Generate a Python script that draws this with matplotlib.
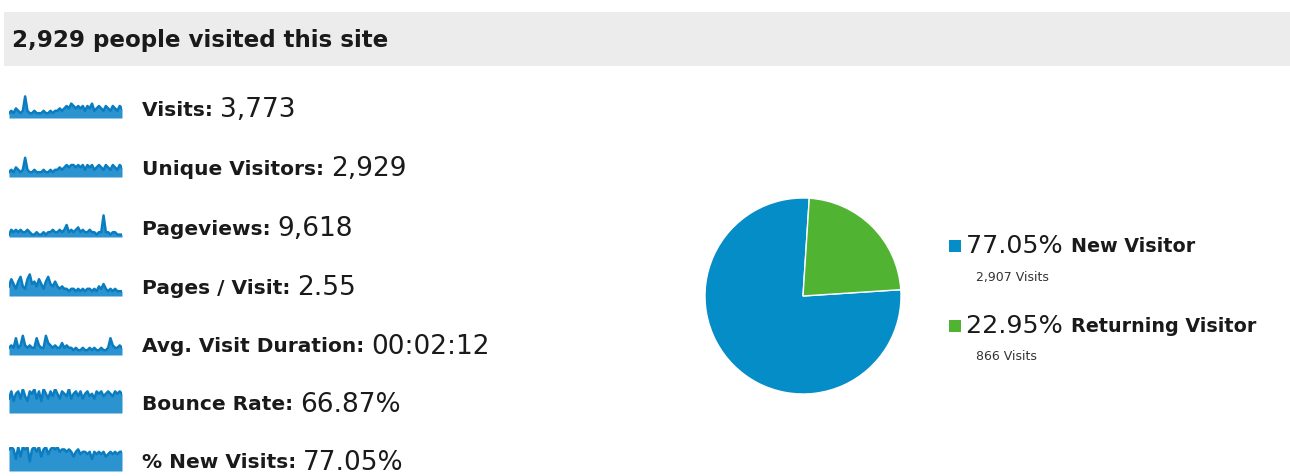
import numpy as np
import matplotlib.pyplot as plt
from matplotlib.patches import Rectangle

plt.rcParams["font.family"] = ["DejaVu Sans"]

W, H = 1290, 476

# ------------------------------------------------------------
# Datos
# ------------------------------------------------------------
title = "2,929 people visited this site"

metric_labels = ["Visits:", "Unique Visitors:", "Pageviews:", "Pages / Visit:",
                 "Avg. Visit Duration:", "Bounce Rate:", "% New Visits:"]
metric_values = ["3,773", "2,929", "9,618", "2.55", "00:02:12", "66.87%", "77.05%"]

spark_visits = [2, 3, 2, 4, 3, 2, 3, 9, 3, 2, 2, 3, 2, 2, 2, 3, 2, 2, 3, 2,
                3, 3, 4, 3, 4, 5, 4, 6, 5, 4, 5, 4, 5, 3, 5, 4, 6, 3, 4, 5,
                4, 3, 5, 4, 3, 5, 4, 3, 5, 4]
spark_unique = [2, 3, 2, 4, 3, 2, 3, 8, 3, 2, 2, 3, 2, 2, 2, 3, 2, 2, 3, 2,
                3, 3, 4, 3, 4, 5, 4, 5, 5, 4, 5, 4, 5, 3, 5, 4, 5, 3, 4, 5,
                4, 3, 5, 4, 3, 5, 4, 3, 5, 4]
spark_pageviews = [1, 3, 2, 3, 2, 3, 2, 2, 3, 2, 1, 1, 2, 1, 1, 2, 1, 2, 2, 3,
                   2, 2, 3, 2, 3, 5, 2, 3, 2, 3, 4, 2, 3, 2, 2, 3, 2, 2, 1, 2,
                   2, 9, 2, 2, 1, 2, 2, 1, 1, 1]
spark_pages = [4, 7, 5, 3, 6, 8, 4, 3, 7, 9, 5, 6, 4, 7, 5, 3, 6, 8, 5, 4,
               6, 4, 3, 4, 3, 3, 2, 3, 3, 2, 3, 2, 3, 2, 3, 3, 2, 3, 2, 4,
               3, 5, 3, 2, 3, 2, 3, 2, 2, 2]
spark_duration = [3, 4, 3, 7, 3, 4, 8, 4, 3, 4, 3, 3, 7, 4, 3, 3, 8, 5, 4, 3,
                  4, 3, 3, 5, 3, 4, 3, 3, 2, 3, 2, 2, 3, 2, 2, 3, 2, 3, 2, 2,
                  3, 2, 2, 3, 7, 4, 3, 3, 4, 3]
spark_bounce = [6, 9, 5, 8, 9, 6, 10, 7, 5, 9, 8, 10, 6, 9, 5, 10, 8, 6, 9, 7,
                10, 8, 6, 9, 8, 7, 10, 6, 8, 9, 7, 9, 6, 8, 9, 7, 8, 6, 9, 8,
                9, 7, 8, 9, 8, 7, 9, 8, 9, 8]
spark_new = [9, 10, 9, 5, 10, 6, 10, 9, 10, 4, 9, 10, 8, 10, 6, 9, 10, 7, 9, 10,
             9, 10, 8, 9, 9, 8, 9, 8, 6, 8, 9, 7, 8, 8, 7, 8, 5, 8, 7, 8,
             7, 8, 6, 7, 8, 7, 8, 7, 8, 8]
sparks = [spark_visits, spark_unique, spark_pageviews, spark_pages,
          spark_duration, spark_bounce, spark_new]

pie_labels = ["New Visitor", "Returning Visitor"]
pie_pct = [77.05, 22.95]
pie_visits = ["2,907 Visits", "866 Visits"]
pie_colors = ["#058dc7", "#50b432"]

# ------------------------------------------------------------
# Figura
# ------------------------------------------------------------
fig = plt.figure(figsize=(W / 100, H / 100), dpi=100)
fig.patch.set_facecolor("white")


def fx(x):
    return x / W


def fy(y):
    return 1 - y / H


# cabecera gris
fig.patches.append(Rectangle((fx(4), fy(66)), fx(1290) - fx(4), (66 - 12) / H,
                             transform=fig.transFigure, facecolor="#ececec",
                             edgecolor="none", zorder=0))
fig.text(fx(12), fy(40), title, fontsize=16.6, fontweight="bold",
         color="#1a1a1a", va="center", ha="left")

# filas de metricas con sparklines
row_y = [110, 169, 229, 288, 347, 405, 463]
for lab, val, data, yc in zip(metric_labels, metric_values, sparks, row_y):
    ax = fig.add_axes([fx(9), fy(yc + 8), fx(113), 24 / H])
    xs = np.arange(len(data))
    ax.fill_between(xs, 0, data, color="#2b93cf", linewidth=0)
    ax.plot(xs, data, color="#0a7cc0", linewidth=1.8)
    ax.set_xlim(0, len(data) - 1)
    ax.set_ylim(0, 10)
    ax.axis("off")

    t = fig.text(fx(142), fy(yc), lab + " ", fontsize=14.5, fontweight="bold",
                 color="#1a1a1a", va="center", ha="left")
    fig.canvas.draw()
    bb = t.get_window_extent()
    fig.text(bb.x1 / W, fy(yc), val, fontsize=19, color="#1a1a1a",
             va="center", ha="left")

# pie (cuña verde centrada en 45 grados)
pax = fig.add_axes([fx(703), fy(396), fx(200), 200 / H])
pax.pie(pie_pct, colors=pie_colors, startangle=3.7, counterclock=False,
        radius=0.98, wedgeprops={"edgecolor": "white", "linewidth": 1.0})
pax.set_xlim(-1, 1)
pax.set_ylim(-1, 1)
pax.set_aspect("equal")
pax.axis("off")

# leyenda
leg_y = [246, 326]
sub_y = [277, 356]
for pct, lab, vis, col, ly, sy in zip(pie_pct, pie_labels, pie_visits,
                                      pie_colors, leg_y, sub_y):
    fig.patches.append(Rectangle((fx(949), fy(ly + 6)), fx(12), 12 / H,
                                 transform=fig.transFigure, facecolor=col,
                                 edgecolor="none"))
    t = fig.text(fx(966), fy(ly), f"{pct:.2f}% ", fontsize=18.3, color="#1a1a1a",
                 va="center", ha="left")
    fig.canvas.draw()
    bb = t.get_window_extent()
    fig.text(bb.x1 / W, fy(ly), lab, fontsize=13.8, fontweight="bold",
             color="#1a1a1a", va="center", ha="left")
    fig.text(fx(976), fy(sy), vis, fontsize=9, color="#333333",
             va="center", ha="left")

fig.savefig("out.png", dpi=100)
